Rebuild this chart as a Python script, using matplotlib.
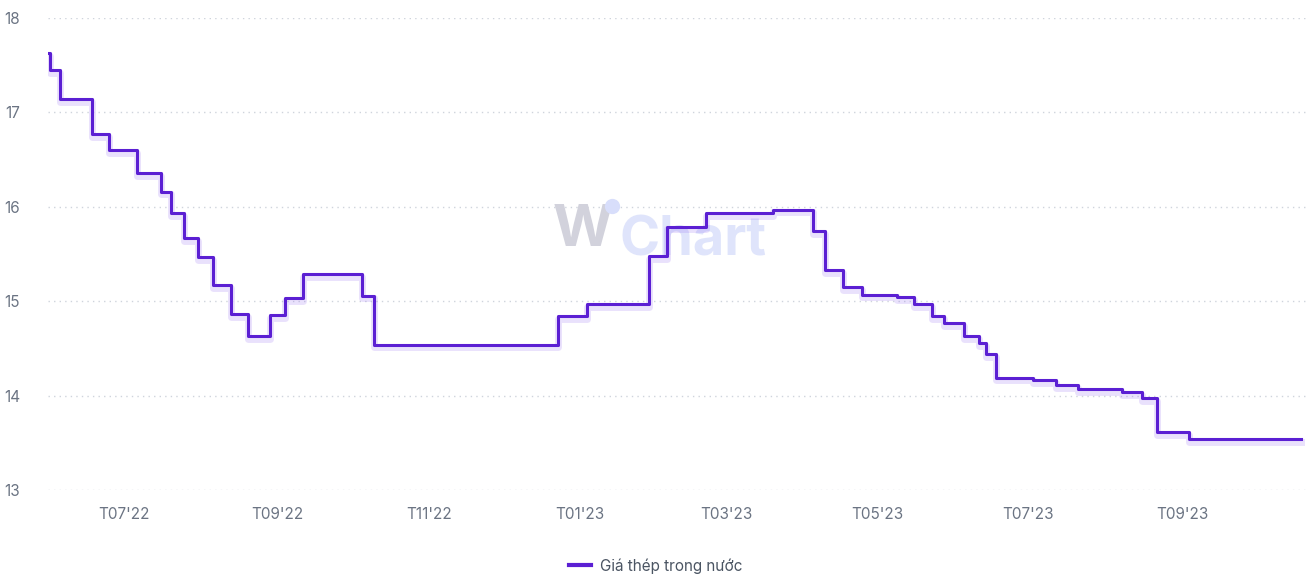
import matplotlib
matplotlib.use('Agg')
import matplotlib.pyplot as plt
import matplotlib.patheffects as pe
import pandas as pd

# ---- data ----
change_dates = ['2022-05-31', '2022-06-01', '2022-06-05', '2022-06-18', '2022-06-25',
                '2022-07-06', '2022-07-16', '2022-07-20', '2022-07-25', '2022-07-31',
                '2022-08-06', '2022-08-13', '2022-08-20', '2022-08-29', '2022-09-04',
                '2022-09-11', '2022-10-05', '2022-10-10', '2022-12-23', '2023-01-04',
                '2023-01-29', '2023-02-05', '2023-02-21', '2023-03-20', '2023-04-05',
                '2023-04-10', '2023-04-17', '2023-04-25', '2023-05-09', '2023-05-16',
                '2023-05-23', '2023-05-28', '2023-06-05', '2023-06-11', '2023-06-14',
                '2023-06-18', '2023-07-03', '2023-07-12', '2023-07-21', '2023-08-08',
                '2023-08-16', '2023-08-22', '2023-09-04', '2023-10-19']
prices = [17.63, 17.45, 17.14, 16.77, 16.60,
          16.36, 16.16, 15.93, 15.67, 15.47,
          15.17, 14.86, 14.63, 14.85, 15.03,
          15.29, 15.06, 14.54, 14.84, 14.97,
          15.48, 15.79, 15.93, 15.97, 15.74,
          15.33, 15.15, 15.07, 15.04, 14.97,
          14.84, 14.77, 14.63, 14.56, 14.44,
          14.19, 14.16, 14.11, 14.07, 14.04,
          13.97, 13.61, 13.54, 13.54]
tick_months = ['2022-07-01', '2022-09-01', '2022-11-01', '2023-01-01',
               '2023-03-01', '2023-05-01', '2023-07-01', '2023-09-01']
tick_labels = ["T07'22", "T09'22", "T11'22", "T01'23",
               "T03'23", "T05'23", "T07'23", "T09'23"]
y_ticks = [13, 14, 15, 16, 17, 18]
series_name = 'Giá thép trong nước'

# ---- style ----
plt.rcParams['font.family'] = ['Inter', 'DejaVu Sans']
W, H = 1307, 575
LINE = '#5b1fd3'
TXT = '#6b7483'

fig = plt.figure(figsize=(W / 100, H / 100), dpi=100)
ax = fig.add_axes([48 / W, 1 - 490 / H, (1307 - 48) / W, (490 - 18) / H])

# watermark (under the line)
ax.text(583 / W, 1 - 231 / H, 'W', fontsize=42, fontweight='bold', transform=fig.transFigure,
        color='#d2d2dc', ha='center', va='center', zorder=1)
ax.text(619 / W, 1 - 255 / H, 'Chart', fontsize=39, fontweight='bold', transform=fig.transFigure,
        color='#dfe4fb', ha='left', va='baseline', zorder=1)
ax.plot([612 / W], [1 - 206 / H], 'o', ms=11, color='#d8defb', mec='none',
        transform=fig.transFigure, zorder=1, clip_on=False)

dates = pd.to_datetime(change_dates)
ax.step(dates, prices, where='post', color=LINE, lw=2.2, zorder=5,
        path_effects=[pe.SimpleLineShadow(offset=(0, -2), shadow_color='#8a5cf0',
                                          alpha=0.18, linewidth=5),
                      pe.Normal()],
        label=series_name)

ax.set_ylim(13, 18)
ax.set_xlim(pd.Timestamp('2022-05-31 06:00'), pd.Timestamp('2023-10-21 12:00'))
ax.set_yticks(y_ticks)
ax.set_yticklabels([str(v) for v in y_ticks])
ax.set_xticks(pd.to_datetime(tick_months))
ax.set_xticklabels(tick_labels)

ax.grid(axis='y', color='#cfd4dc', lw=1.0, linestyle=(0, (1, 3)))
ax.grid(axis='x', visible=False)
for s in ax.spines.values():
    s.set_visible(False)
ax.tick_params(axis='both', length=0, colors=TXT, labelsize=11)
ax.tick_params(axis='y', pad=20)
ax.tick_params(axis='x', pad=12)
ax.set_axisbelow(True)

leg = fig.legend(loc='center', bbox_to_anchor=(656 / W, 1 - 566 / H), frameon=False,
                 fontsize=11, handlelength=1.4, handletextpad=0.6)
for t in leg.get_texts():
    t.set_color('#4b5563')
for l in leg.get_lines():
    l.set_linewidth(3)
    l.set_path_effects([])

fig.savefig('out.png', dpi=100)
